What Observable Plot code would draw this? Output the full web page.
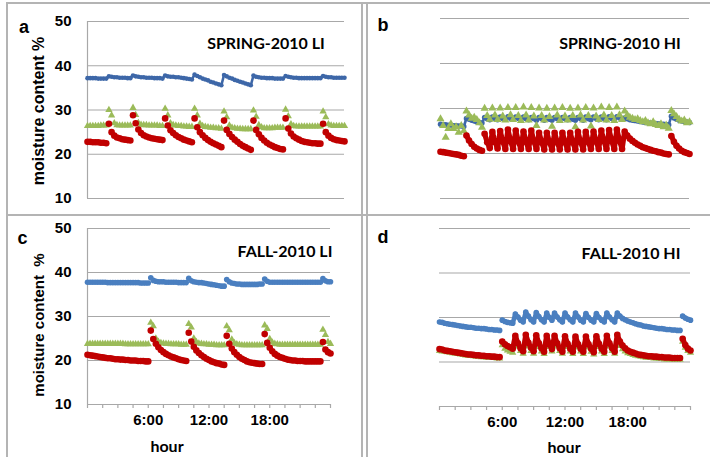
<!DOCTYPE html>
<html>
<head>
<meta charset="utf-8">
<script src="https://cdn.jsdelivr.net/npm/d3@7"></script>
<script src="https://cdn.jsdelivr.net/npm/@observablehq/plot@0.6"></script>
<style>
  html, body { margin: 0; padding: 0; background: #fff; }
  #wrap { position: relative; width: 710px; height: 457px; overflow: hidden; background: #fff; }
  .ln { position: absolute; background: #b4b4b4; }
  .pn { position: absolute; }
  #ov { position: absolute; left: 0; top: 0; pointer-events: none; }
</style>
</head>
<body>
<div id="wrap"></div>
<script>
// ---------------- DATA ----------------
const yTicks = [10, 20, 30, 40, 50];
const hourTicks = [0, 1.5, 3, 4.5, 6, 7.5, 9, 10.5, 12, 13.5, 15, 16.5, 18, 19.5, 21, 22.5, 24];
const labelTicks = [6, 12, 18];
const tickLabels = ["6:00", "12:00", "18:00"];
const panelTitles = ["SPRING-2010 LI", "SPRING-2010 HI", "FALL-2010 LI", "FALL-2010 HI"];
const panelLetters = ["a", "b", "c", "d"];
// readings every 15 minutes, 0:00 .. 24:00 (97 per series)
const stepHours = 0.25;

const blueA = [37.2,37.2,37.2,37.2,37.1,37.1,37.1,37.1,
37.6,37.5,37.4,37.4,37.3,37.3,37.3,37.2,37.2,
37.8,37.6,37.5,37.4,37.4,37.3,37.3,37.3,37.2,37.2,37.2,37.1,
37.8,37.6,37.5,37.5,37.4,37.4,37.3,37.2,37.1,37.0,36.9,
38.0,37.7,37.4,37.1,36.9,36.7,36.4,36.2,36.0,35.8,35.6,
37.9,37.6,37.3,37.1,36.8,36.6,36.4,36.2,36.0,35.8,35.6,
37.8,37.5,37.4,37.3,37.3,37.2,37.2,37.2,37.1,37.1,37.1,37.1,
37.7,37.5,37.4,37.3,37.3,37.2,37.2,37.2,37.2,37.2,37.2,37.2,37.2,37.2,
37.7,37.5,37.4,37.4,37.3,37.3,37.3,37.3,37.3];
const greenA = [26.4,26.4,26.4,26.4,26.4,26.5,26.5,26.5,
30.0,28.8,27.0,26.6,26.5,26.5,26.5,26.5,26.5,
30.5,28.9,27.1,26.7,26.6,26.6,26.5,26.5,26.5,26.5,26.4,26.4,
30.3,28.8,27.0,26.6,26.5,26.4,26.4,26.3,26.3,26.2,26.2,
30.3,28.8,26.9,26.4,26.2,26.1,26.0,26.0,25.9,25.9,25.8,
29.7,28.4,26.5,26.0,25.9,25.8,25.8,25.7,25.7,25.7,25.7,
29.9,28.5,26.6,26.1,25.9,25.9,25.9,25.9,26.0,26.0,26.0,26.0,
30.1,28.6,26.8,26.4,26.3,26.3,26.3,26.3,26.3,26.3,26.3,26.3,26.3,26.3,
29.7,28.4,26.8,26.5,26.4,26.4,26.4,26.4,26.4];
const redA = [22.8,22.8,22.7,22.7,22.7,22.6,22.6,22.5,
26.9,25.0,24.2,23.8,23.6,23.4,23.3,23.2,23.1,
28.8,27.0,25.6,24.8,24.3,24.0,23.8,23.6,23.5,23.4,23.3,23.2,
28.1,26.5,25.4,24.8,24.3,23.9,23.6,23.3,23.1,22.9,22.7,
28.1,26.1,25.0,24.3,23.7,23.2,22.8,22.5,22.2,21.9,21.6,
27.6,25.5,24.6,23.9,23.3,22.8,22.3,21.9,21.6,21.3,21.0,
27.6,25.5,24.5,23.7,23.1,22.6,22.2,21.9,21.6,21.4,21.2,21.1,
28.1,25.8,24.7,24.0,23.6,23.3,23.0,22.8,22.7,22.6,22.5,22.5,22.4,22.4,
26.9,25.0,24.2,23.7,23.4,23.2,23.1,23.0,22.9];

const blueB = [26.5,26.4,26.4,26.3,26.3,26.2,26.2,26.1,26.1,26.0,
27.8,27.6,27.4,27.2,27.0,26.9,26.8,
28.0,27.7,27.5, 28.1,27.8,27.5, 28.1,27.8,27.6, 28.2,27.8,27.6, 28.1,27.8,27.5, 28.1,27.7,27.5,
28.0,27.7,27.4, 28.0,27.7,27.4, 28.0,27.6,27.4, 28.0,27.7,27.4, 28.0,27.7,27.5, 28.0,27.6,27.4,
28.0,27.7,27.4, 28.1,27.7,27.5, 28.1,27.8,27.5, 28.1,27.8,27.5, 28.2,27.8,27.6, 28.2,27.9,27.6,
27.9,27.7,27.5,27.4,27.3,27.2,27.1,27.0,26.9,26.8,26.8,26.7,26.6,26.6,26.5,26.5,26.4,26.4,
28.3,27.9,27.6,27.4,27.2,27.1,27.0,26.9];
const greenB = [27.7,26.2,23.6,25.5,26.6,25.5,25.9,24.7,26.2,25.0,
29.4,28.5,27.8,28.0,27.5,26.8,25.8,
30.0,28.4,27.6, 30.1,28.5,27.5, 30.1,28.3,27.4, 30.2,28.6,27.5, 30.2,28.4,27.3, 30.3,28.5,27.4,
30.2,28.3,26.2, 30.1,28.4,27.4, 30.0,28.2,26.0, 30.1,28.5,27.3, 30.2,28.3,27.4, 30.0,28.4,25.9,
30.1,28.5,27.4, 30.2,28.4,26.1, 30.1,28.3,27.5, 30.3,28.5,27.4, 30.2,28.4,27.3, 30.3,28.6,27.5,
29.4,28.6,28.0,27.8,27.5,27.7,27.3,27.0,27.3,26.8,26.6,27.0,26.4,26.2,26.6,25.9,26.3,25.6,
29.5,28.8,28.2,27.6,27.2,27.4,26.8,27.0];
const redB = [20.4,20.3,20.2,20.1,20.0,19.9,19.8,19.7,19.5,19.4,
24.0,22.9,22.1,21.5,21.1,20.8,20.6,
24.4,22.5,21.2, 24.8,22.6,21.1, 25.0,22.7,21.0, 25.3,22.8,21.0, 25.1,22.7,21.0, 24.9,22.6,21.0,
25.1,22.7,21.0, 24.6,22.5,20.9, 24.6,22.5,20.9, 24.6,22.5,20.9, 24.6,22.5,20.9, 24.6,22.5,20.9,
24.8,22.6,20.9, 24.8,22.6,21.0, 24.9,22.7,21.0, 25.1,22.8,21.0, 25.2,22.8,21.0, 25.3,22.9,21.0,
24.9,24.0,23.3,22.8,22.4,22.0,21.7,21.4,21.2,21.0,20.8,20.6,20.5,20.3,20.2,20.0,19.9,19.8,
23.9,22.6,21.7,21.1,20.6,20.3,20.1,19.9];
// reading indices where a new (unconnected) run of readings begins
const breaksB = [10, 17, 89];

const blueC = [37.8,37.8,37.8,37.8,37.8,37.8,37.8,37.8,37.7,37.7,37.7,37.7,37.7,37.7,37.7,37.7,37.7,37.7,37.7,37.7,37.7,37.6,37.6,37.6,37.6,
38.8,38.2,38.0,37.9,37.9,37.9,37.8,37.8,37.8,37.8,37.8,37.7,37.7,37.7,37.7,
38.7,38.1,37.9,37.8,37.7,37.7,37.6,37.5,37.4,37.3,37.2,37.1,37.0,36.9,36.9,
38.4,37.9,37.6,37.5,37.4,37.4,37.3,37.3,37.3,37.3,37.3,37.3,37.3,37.4,37.4,
38.5,38.0,37.8,37.8,37.8,37.8,37.8,37.8,37.8,37.8,37.8,37.8,37.8,37.8,37.8,37.8,37.8,37.8,37.8,37.8,37.8,37.8,37.8,
38.6,38.1,37.9,37.9];
const greenC = [23.8,23.8,23.8,23.8,23.8,23.8,23.8,23.8,23.8,23.8,23.8,23.8,23.8,23.8,23.8,23.7,23.7,23.7,23.7,23.7,23.7,23.7,23.7,23.7,23.7,
28.6,27.8,25.0,24.3,24.0,23.9,23.8,23.8,23.7,23.7,23.7,23.7,23.6,23.6,23.6,
28.3,27.5,25.0,24.2,23.9,23.8,23.7,23.7,23.6,23.6,23.6,23.5,23.5,23.5,23.5,
27.8,26.9,24.8,24.0,23.7,23.6,23.5,23.5,23.5,23.5,23.5,23.5,23.5,23.5,23.5,
28.0,27.2,24.9,24.1,23.8,23.7,23.6,23.6,23.6,23.6,23.6,23.6,23.6,23.6,23.6,23.6,23.6,23.6,23.6,23.6,23.6,23.6,23.6,
27.0,25.8,24.2,23.8];
const redC = [21.3,21.2,21.1,21.0,20.9,20.8,20.7,20.6,20.5,20.5,20.4,20.3,20.3,20.2,20.2,20.1,20.1,20.0,20.0,20.0,19.9,19.9,19.9,19.8,19.8,
26.8,24.9,23.8,23.0,22.4,21.9,21.5,21.2,20.9,20.7,20.5,20.3,20.1,20.0,19.9,
26.3,24.3,23.1,22.3,21.7,21.2,20.8,20.4,20.1,19.8,19.6,19.4,19.3,19.1,19.0,
25.6,23.8,22.7,21.9,21.3,20.8,20.4,20.1,19.8,19.6,19.5,19.4,19.3,19.2,19.2,
26.0,24.0,22.9,22.1,21.5,21.1,20.8,20.6,20.4,20.2,20.1,20.0,20.0,19.9,19.9,19.9,19.8,19.8,19.8,19.8,19.8,19.8,19.8,
24.2,22.5,21.9,21.6];

const blueD = [29.0,28.9,28.7,28.6,28.5,28.4,28.3,28.2,28.1,28.0,27.9,27.8,27.8,27.7,27.6,27.6,27.5,27.5,27.4,27.3,27.3,27.2,27.2,27.1,
29.4,29.1,28.9,28.8,28.7,
30.8,30.1,29.4,29.0, 31.2,30.3,29.5,29.0, 31.1,30.2,29.5,29.0, 31.0,30.0,29.4,
31.0,30.1,29.5,29.0, 31.0,30.1,29.5,29.0, 31.0,30.1,29.4,29.0, 30.9,30.0,29.4,29.0,
30.9,30.0,29.4,29.0, 31.0,30.1,29.5,29.0,
31.0,30.3,29.8,29.5,29.2,29.0,28.8,28.6,28.4,28.3,28.1,28.0,27.9,27.8,27.7,27.6,27.5,27.5,27.4,27.3,27.3,27.2,27.2,27.1,27.1,
30.3,29.9,29.6,29.4];
const greenD = [22.5,22.4,22.3,22.2,22.1,22.0,21.9,21.8,21.7,21.6,21.5,21.4,21.4,21.3,21.2,21.2,21.1,21.1,21.0,21.0,20.9,20.9,20.8,20.8,
23.8,23.0,22.6,22.3,22.1,
25.0,23.5,22.5,21.9, 25.1,23.5,22.5,21.9, 25.0,23.4,22.4,21.8, 25.0,23.4,22.4,
25.0,23.5,22.5,21.9, 24.9,23.4,22.4,21.8, 24.9,23.3,22.4,21.8, 24.8,23.3,22.3,21.7,
24.9,23.4,22.4,21.8, 25.0,23.5,22.5,21.9,
25.0,23.6,22.9,22.4,22.0,21.8,21.6,21.4,21.3,21.2,21.1,21.0,20.9,20.9,20.8,20.8,20.7,20.7,20.6,20.6,20.6,20.5,20.5,20.5,20.5,
24.6,23.2,22.5,22.1];
const redD = [22.9,22.8,22.6,22.5,22.4,22.3,22.2,22.1,22.0,21.9,21.8,21.7,21.7,21.6,21.5,21.5,21.4,21.4,21.3,21.3,21.2,21.2,21.1,21.1,
24.6,24.0,23.6,23.3,23.0,
25.9,24.2,23.1,22.4, 26.1,24.3,23.2,22.4, 26.0,24.2,23.1,22.3, 25.9,24.0,22.9,
25.9,24.2,23.1,22.3, 25.8,24.1,23.0,22.3, 25.7,24.0,23.0,22.3, 25.7,24.0,23.0,22.2,
25.8,24.1,23.0,22.3, 25.9,24.2,23.1,22.3,
26.1,24.6,23.7,23.1,22.6,22.3,22.1,21.9,21.7,21.6,21.5,21.4,21.3,21.3,21.2,21.2,21.1,21.1,21.0,21.0,21.0,20.9,20.9,20.9,20.9,
25.2,23.8,23.0,22.6];
const breaksD = [24, 93];

// ---------------- STYLE ----------------
const RED = "#c00000", GREEN = "#9bbb59", BLUE_DARK = "#3d67a8", BLUE_LIGHT = "#4a7fc0";
const GRID = "#a8a8a8";
const AXFONT = "'Liberation Sans', Arial, sans-serif";
const TITLEFONT = "Lato, 'Open Sans', sans-serif";

function rowsOf(blue, green, red, breaks) {
  return blue.map((b, i) => ({
    t: i * stepHours, blue: b, green: green[i], red: red[i],
    seg: breaks ? breaks.filter(k => k <= i).length : 0
  }));
}

function panel(cfg) {
  const rows = rowsOf(cfg.blue, cfg.green, cfg.red, cfg.breaks);
  const marks = [
    Plot.gridY(yTicks, {stroke: GRID, strokeOpacity: 1, strokeWidth: 1.2})
  ];
  if (cfg.yAxis) {
    marks.push(Plot.ruleX([0], {stroke: GRID, strokeWidth: 1.2}));
    marks.push(Plot.axisY(yTicks, {tickSize: 0, tickPadding: 16, label: null, fontSize: 15, fontWeight: "bold", fontFamily: AXFONT}));
  }
  if (cfg.xAxis) {
    marks.push(Plot.axisX(hourTicks, {tickSize: 4, tickFormat: () => "", label: null, stroke: GRID, strokeWidth: 1.2}));
    marks.push(Plot.axisX(labelTicks, {tickSize: 0, tickPadding: 10, label: null,
      tickFormat: d => tickLabels[labelTicks.indexOf(d)], fontSize: 15, fontWeight: "bold", fontFamily: AXFONT}));
  }
  const lineOpts = {x: "t", z: "seg", strokeLinecap: "round", strokeLinejoin: "round"};
  if (cfg.blueLine) {
    marks.push(Plot.line(rows, {x: "t", y: "blue", stroke: cfg.blueColor, strokeWidth: 2.6}));
    marks.push(Plot.dot(rows, {x: "t", y: "blue", r: cfg.blueR, fill: cfg.blueColor}));
  } else {
    if (cfg.breaks) marks.push(Plot.line(rows, {...lineOpts, y: "blue", stroke: cfg.blueColor, strokeWidth: 4.6}));
    marks.push(Plot.dot(rows, {x: "t", y: "blue", r: cfg.blueR, fill: cfg.blueColor}));
  }
  marks.push(Plot.dot(rows, {x: "t", y: "green", symbol: "triangle", r: cfg.greenR, fill: GREEN}));
  if (cfg.breaks) marks.push(Plot.line(rows, {...lineOpts, y: "red", stroke: RED, strokeWidth: 5.2}));
  marks.push(Plot.dot(rows, {x: "t", y: "red", r: 3.3, fill: RED}));

  const svg = Plot.plot({
    width: cfg.width, height: cfg.height,
    marginLeft: cfg.ml, marginRight: cfg.mr, marginTop: cfg.mt, marginBottom: cfg.mb,
    x: cfg.xAxis ? {domain: [0, 24]} : {domain: [0, 24], axis: null},
    y: cfg.yAxis ? {domain: [10, 50]} : {domain: [10, 50], axis: null},
    style: {fontFamily: AXFONT, fontSize: "15px", fontWeight: "bold", color: "#000", background: "transparent", overflow: "visible"},
    marks
  });
  svg.classList.add("pn");
  svg.style.left = cfg.left + "px";
  svg.style.top = cfg.top + "px";
  return svg;
}

const wrap = document.getElementById("wrap");

// frame lines
function line(l, t, w, h) {
  const d = document.createElement("div");
  d.className = "ln";
  Object.assign(d.style, {left: l + "px", top: t + "px", width: w + "px", height: h + "px"});
  wrap.appendChild(d);
}
line(6, 2, 704, 2);
line(6, 2, 2, 455);
line(6, 214, 704, 2);
line(361, 2, 2, 455);
line(366, 2, 1.5, 455);

wrap.appendChild(panel({blue: blueA, green: greenA, red: redA, left: 0, top: 0, width: 360, height: 215,
  ml: 87, mr: 16, mt: 21, mb: 17, yAxis: true, xAxis: false, blueLine: true, blueColor: BLUE_DARK, blueR: 2.3, greenR: 2.7}));
wrap.appendChild(panel({blue: blueB, green: greenB, red: redB, breaks: breaksB, left: 362, top: 0, width: 348, height: 215,
  ml: 78, mr: 21, mt: 18, mb: 17, yAxis: false, xAxis: false, blueLine: true, blueColor: BLUE_DARK, blueR: 2.7, greenR: 3.0}));
wrap.appendChild(panel({blue: blueC, green: greenC, red: redC, left: 0, top: 215, width: 360, height: 242,
  ml: 87, mr: 30, mt: 13, mb: 53, yAxis: true, xAxis: true, blueLine: false, blueColor: BLUE_LIGHT, blueR: 2.8, greenR: 2.7}));
wrap.appendChild(panel({blue: blueD, green: greenD, red: redD, breaks: breaksD, left: 362, top: 215, width: 348, height: 242,
  ml: 77, mr: 20, mt: 13, mb: 51, yAxis: false, xAxis: true, blueLine: false, blueColor: BLUE_LIGHT, blueR: 2.8, greenR: 2.7}));

// overlay texts
const NS = "http://www.w3.org/2000/svg";
const ov = document.createElementNS(NS, "svg");
ov.setAttribute("id", "ov");
ov.setAttribute("width", 710);
ov.setAttribute("height", 457);
wrap.appendChild(ov);
function txt(s, x, y, size, family, rotate) {
  const t = document.createElementNS(NS, "text");
  t.textContent = s;
  t.setAttribute("x", x);
  t.setAttribute("y", y);
  t.setAttribute("text-anchor", "middle");
  t.setAttribute("dominant-baseline", "central");
  t.setAttribute("font-size", size);
  t.setAttribute("font-weight", "bold");
  t.setAttribute("font-family", family);
  t.setAttribute("fill", "#000");
  t.style.whiteSpace = "pre";
  if (rotate) t.setAttribute("transform", `rotate(-90 ${x} ${y})`);
  ov.appendChild(t);
}
txt(panelLetters[0], 24, 27, 18, AXFONT);
txt(panelLetters[1], 383, 25, 18, AXFONT);
txt(panelLetters[2], 22.5, 237.5, 18, AXFONT);
txt(panelLetters[3], 383, 237, 18, AXFONT);
txt(panelTitles[0], 266, 42, 16, TITLEFONT);
txt(panelTitles[1], 620, 42, 16, TITLEFONT);
txt(panelTitles[2], 285, 250, 16, TITLEFONT);
txt(panelTitles[3], 631, 252, 16, TITLEFONT);
txt("moisture content %", 38, 111, 16, AXFONT, true);
txt("moisture content  %", 38, 325, 15, AXFONT, true);
txt("hour", 167, 445, 16, TITLEFONT);
txt("hour", 564, 446, 16, TITLEFONT);
</script>
</body>
</html>
